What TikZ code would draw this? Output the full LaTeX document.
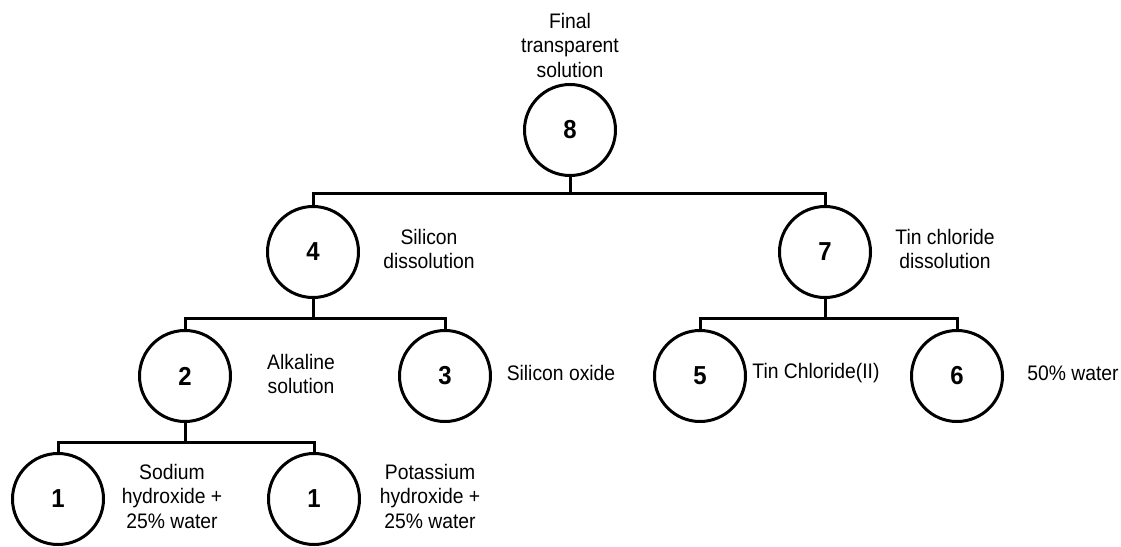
\documentclass[tikz,border=0pt]{standalone}
\usepackage{fontspec}
\setmainfont{Liberation Sans}[FakeStretch=0.92]
\usetikzlibrary{positioning}

\begin{document}
\begin{tikzpicture}[x=1pt,y=-1pt,on grid,node distance=116pt,
    stage/.style={circle,draw,line width=3pt,minimum size=91pt,inner sep=0pt,
      font=\fontsize{26}{26}\selectfont\bfseries},
    lbl/.style={align=center,inner sep=0pt,font=\fontsize{21}{24.5}\selectfont},
    link/.style={line width=3pt}]
   \useasboundingbox (0,0) rectangle (1121,546);
   % circles
   \node[stage] (n8)  at (570,130) {8};
   \node[stage] (n4)  at (313,252) {4};
   \node[stage] (n7)  at (825,252) {7};
   \node[stage] (n2)  at (185,376) {2};
   \node[stage] (n3)  at (445,376) {3};
   \node[stage] (n5)  at (700,376) {5};
   \node[stage] (n6)  at (957,376) {6};
   \node[stage] (n1a) at (58,499)  {1};
   \node[stage] (n1b) at (314,499) {1};
   % labels
   \node[lbl,above=85pt of n8] (l8) {Final\\transparent\\solution};
   \node[lbl,right=of n4,yshift=3pt] (l4) {Silicon\\dissolution};
   \node[lbl,right=120pt of n7,yshift=3pt] (l7) {Tin chloride\\dissolution};
   \node[lbl,right=of n2,yshift=2pt] (l2) {Alkaline\\solution};
   \node[lbl,right=of n3,yshift=3pt] (l3) {Silicon oxide};
   \node[lbl,right=of n5,yshift=3pt] (l5) {Tin Chloride(II)};
   \node[lbl,right=of n6,yshift=3pt] (l6) {50\% water};
   \node[lbl,right=114pt of n1a,yshift=3pt] (l1a) {Sodium\\hydroxide +\\25\% water};
   \node[lbl,right=of n1b,yshift=3pt] (l1b) {Potassium\\hydroxide +\\25\% water};
   % tree
   \draw[link] (n8.south) -- ++(0,16) -| (n4.north);
   \draw[link] (n8.south) -- ++(0,16) -| (n7.north);
   \draw[link] (n4.south) -- ++(0,19) -| (n2.north);
   \draw[link] (n4.south) -- ++(0,19) -| (n3.north);
   \draw[link] (n7.south) -- ++(0,19) -| (n5.north);
   \draw[link] (n7.south) -- ++(0,19) -| (n6.north);
   \draw[link] (n2.south) -- ++(0,19) -| (n1a.north);
   \draw[link] (n2.south) -- ++(0,19) -| (n1b.north);
\end{tikzpicture}
\end{document}
